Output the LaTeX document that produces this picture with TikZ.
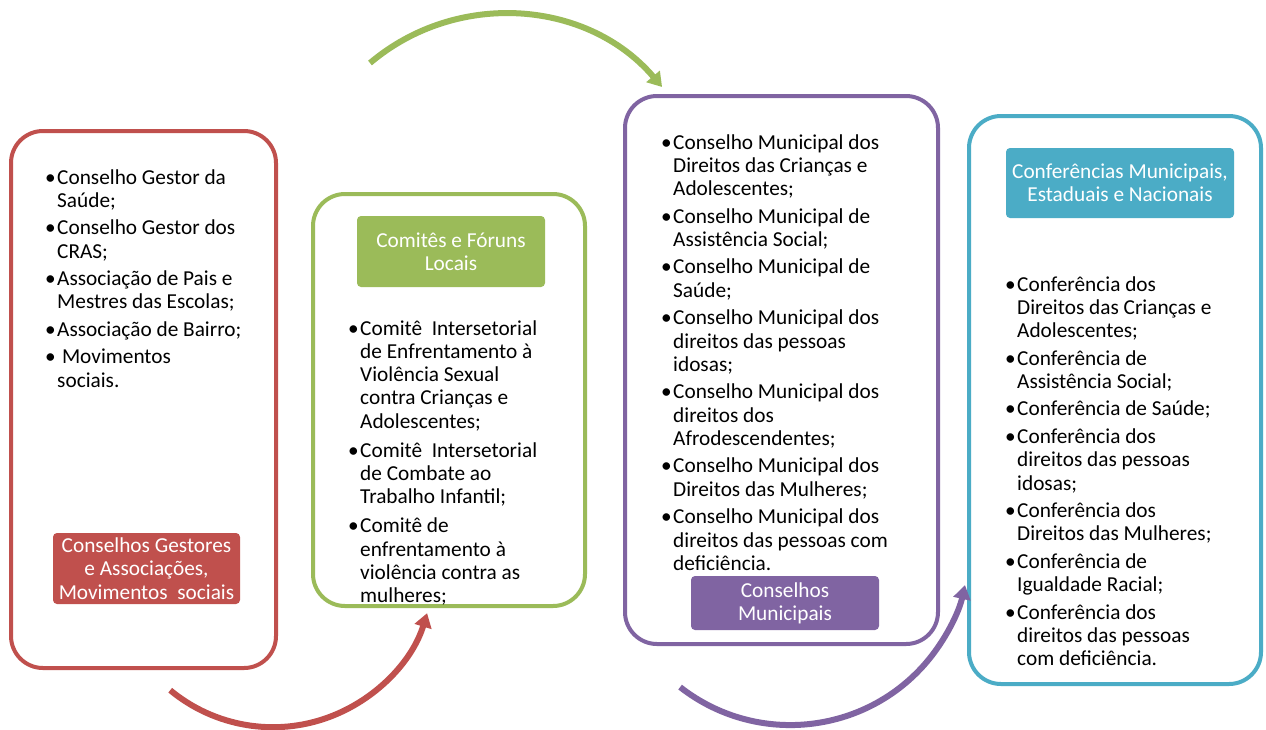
\documentclass[tikz,border=0pt]{standalone}
\usepackage{fontspec}
\setmainfont{Carlito}
\usetikzlibrary{arrows.meta}
\definecolor{cred}{HTML}{C0504D}
\definecolor{cgreen}{HTML}{9BBB59}
\definecolor{cpurple}{HTML}{8064A2}
\definecolor{cblue}{HTML}{4BACC6}
\newcommand\B{\makebox[9.5pt][l]{\hspace{-2.5pt}\textbullet}}
\newcommand\G{\\[4.2pt]}
\newcommand\GG{\\[5.7pt]}
\begin{document}
\begin{tikzpicture}[x=1pt,y=-1pt,
  frame/.style={draw=#1, line width=4pt, rounded corners=32pt, inner sep=0pt},
  items/.style={anchor=base west, inner sep=0pt,
    font={\fontsize{21.3}{23.3}\selectfont}},
  lab/.style={fill=#1, text=white, rounded corners=4pt, inner sep=0pt, align=center,
    font={\fontsize{21.3}{23.3}\selectfont}},
  arr/.style={draw=#1, line width=6pt, -{Triangle[length=14pt,width=17pt]}}]
\useasboundingbox (0,0) rectangle (1266,729);
\fill[white] (0,0) rectangle (1266,729);
% frames
\node[frame=cred, minimum width=265pt, minimum height=537pt] (f1) at (143.5,399.5) {};
\node[frame=cgreen, minimum width=272pt, minimum height=412pt] (f2) at (449,400) {};
\node[frame=cpurple, minimum width=313pt, minimum height=548pt] (f3) at (781.5,370) {};
\node[frame=cblue, minimum width=292pt, minimum height=568pt] (f4) at (1115,400) {};
% item lists
\node[items] (t1) at (47.5,184) {\begin{tabular}[t]{@{}l@{}l@{}}
\B & Conselho Gestor da\\ & Saúde;\G
\B & Conselho Gestor dos\\ & CRAS;\G
\B & Associação de Pais e\\ & Mestres das Escolas;\G
\B & Associação de Bairro;\G
\B & \ Movimentos\\ & sociais.
\end{tabular}};
\node[items] (t2) at (350.5,335) {\begin{tabular}[t]{@{}l@{}l@{}}
\B & Comitê\ \ Intersetorial\\ & de Enfrentamento à\\ & Violência Sexual\\ & contra Crianças e\\ & Adolescentes;\GG
\B & Comitê\ \ Intersetorial\\ & de Combate ao\\ & Trabalho Infantil;\GG
\B & Comitê de\\ & enfrentamento à\\ & violência contra as\\ & mulheres;
\end{tabular}};
\node[items] (t3) at (663.5,149) {\begin{tabular}[t]{@{}l@{}l@{}}
\B & Conselho Municipal dos\\ & Direitos das Crianças e\\ & Adolescentes;\G
\B & Conselho Municipal de\\ & Assistência Social;\G
\B & Conselho Municipal de\\ & Saúde;\G
\B & Conselho Municipal dos\\ & direitos das pessoas\\ & idosas;\G
\B & Conselho Municipal dos\\ & direitos dos\\ & Afrodescendentes;\G
\B & Conselho Municipal dos\\ & Direitos das Mulheres;\G
\B & Conselho Municipal dos\\ & direitos das pessoas com\\ & deficiência.
\end{tabular}};
\node[items] (t4) at (1007.5,291) {\begin{tabular}[t]{@{}l@{}l@{}}
\B & Conferência dos\\ & Direitos das Crianças e\\ & Adolescentes;\G
\B & Conferência de\\ & Assistência Social;\G
\B & Conferência de Saúde;\G
\B & Conferência dos\\ & direitos das pessoas\\ & idosas;\G
\B & Conferência dos\\ & Direitos das Mulheres;\G
\B & Conferência de\\ & Igualdade Racial;\G
\B & Conferência dos\\ & direitos das pessoas\\ & com deficiência.
\end{tabular}};
% labels
\node[lab=cred, minimum width=187pt, minimum height=71pt] (l1) at (146.5,568.5)
  {Conselhos Gestores\\e Associações,\\Movimentos\ \ sociais};
\node[lab=cgreen, minimum width=188pt, minimum height=71pt] (l2) at (451,251.5)
  {Comitês e Fóruns\\Locais};
\node[lab=cpurple, minimum width=188pt, minimum height=54pt] (l3) at (785,603)
  {Conselhos\\Municipais};
\node[lab=cblue, minimum width=228pt, minimum height=70pt] (l4) at (1120,183)
  {Conferências Municipais,\\Estaduais e Nacionais};
% arrows
\coordinate (ra) at (170.2,690.2);
\coordinate (ga) at (370,63);
\coordinate (pa) at (680.1,687.1);
\draw[arr=cred] (ra) arc[start angle=129.6, end angle=17, radius=161.2];
\draw[arr=cgreen] (ga) arc[start angle=-130.2, end angle=-40.4, radius=207.6];
\draw[arr=cpurple] (pa) arc[start angle=128, end angle=12.6, radius=179];
\end{tikzpicture}
\end{document}
